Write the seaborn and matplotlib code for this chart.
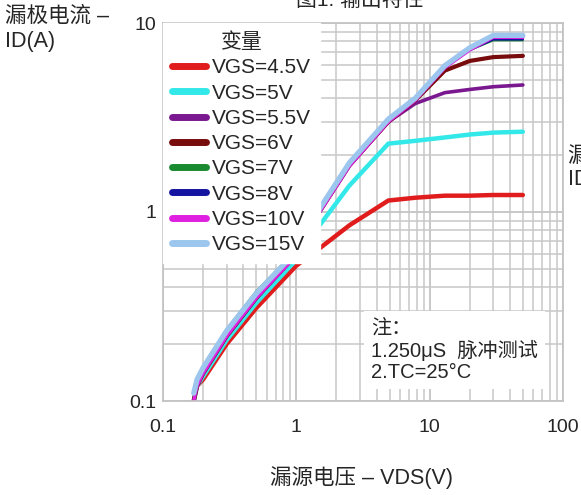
import matplotlib
matplotlib.use("Agg")
import matplotlib.pyplot as plt
import seaborn as sns
from matplotlib.ticker import FixedLocator, FixedFormatter, NullFormatter

# dados (curva de saída)
VDS = [0.17, 0.18, 0.2, 0.3, 0.5, 1, 1.4, 2.5, 4.9, 7.8, 13, 20, 30, 50]

id_vgs45 = [0.1, 0.12, 0.13, 0.2, 0.31, 0.52, 0.62, 0.85, 1.15, 1.19, 1.22, 1.22, 1.23, 1.23]
id_vgs5 = [0.1, 0.12, 0.135, 0.21, 0.33, 0.56, 0.80, 1.38, 2.3, 2.38, 2.48, 2.57, 2.63, 2.66]
id_vgs55 = [0.1, 0.12, 0.14, 0.22, 0.35, 0.59, 0.93, 1.75, 3.0, 3.75, 4.28, 4.45, 4.6, 4.7]
id_vgs6 = [0.1, 0.12, 0.14, 0.22, 0.35, 0.6, 0.94, 1.77, 3.0, 3.9, 5.6, 6.3, 6.6, 6.7]
id_vgs7 = [0.1, 0.13, 0.15, 0.24, 0.38, 0.63, 0.98, 1.85, 3.1, 3.95, 5.9, 7.2, 8.1, 8.1]
id_vgs8 = [0.1, 0.12, 0.14, 0.22, 0.35, 0.6, 0.94, 1.77, 3.0, 3.9, 5.85, 7.2, 8.2, 8.2]
id_vgs10 = [0.1, 0.12, 0.14, 0.22, 0.35, 0.59, 0.93, 1.75, 3.0, 3.9, 5.8, 7.2, 8.4, 8.4]
id_vgs15 = [0.11, 0.13, 0.15, 0.235, 0.37, 0.62, 0.97, 1.82, 3.1, 4.0, 5.95, 7.4, 8.6, 8.6]

rotulos = ["VGS=4.5V", "VGS=5V", "VGS=5.5V", "VGS=6V", "VGS=7V", "VGS=8V", "VGS=10V", "VGS=15V"]
series = [id_vgs45, id_vgs5, id_vgs55, id_vgs6, id_vgs7, id_vgs8, id_vgs10, id_vgs15]
cores = ["#e01c1c", "#33e8e8", "#7a1890", "#780c0c", "#1a8a30", "#1414a0", "#e020e0", "#9cc6ee"]
larguras = [3.2, 3.2, 2.6, 3.0, 1.6, 1.8, 2.4, 3.8]

sns.set_style("white")
plt.rcParams['font.family'] = ['Liberation Sans', 'Noto Sans CJK SC']

fig = plt.figure(figsize=(5.81, 4.95), dpi=100)
ax = fig.add_axes([163/581, 1 - 401/495, 400/581, 378/495])

for ys, nome, cor, lw in zip(series, rotulos, cores, larguras):
    sns.lineplot(x=VDS, y=ys, color=cor, linewidth=lw, label=nome, ax=ax, sort=False)

ax.set_xscale("log")
ax.set_yscale("log")
ax.set_xlim(0.1, 100)
ax.set_ylim(0.1, 10)

ax.xaxis.set_major_locator(FixedLocator([0.1, 1, 10, 100]))
ax.xaxis.set_major_formatter(FixedFormatter(["0.1", "1", "10", "100"]))
ax.yaxis.set_major_locator(FixedLocator([0.1, 1, 10]))
ax.yaxis.set_major_formatter(FixedFormatter(["0.1", "1", "10"]))
ax.xaxis.set_minor_formatter(NullFormatter())
ax.yaxis.set_minor_formatter(NullFormatter())
ax.tick_params(axis="both", which="both", length=0, labelsize=14)
ax.tick_params(axis="x", pad=13)
ax.tick_params(axis="y", pad=5)

ax.grid(True, which="major", color="#c4c4c4", linewidth=1.3)
ax.grid(True, which="minor", color="#c8c8c8", linewidth=1.1)
for s in ax.spines.values():
    s.set_color("#c4c4c4")
    s.set_linewidth(1.3)

leg = ax.legend(title="变量", loc="upper left", fontsize=15, title_fontsize=15,
                frameon=True, fancybox=False, borderaxespad=0, borderpad=0.45,
                labelspacing=0.3, handlelength=1.6, handletextpad=0.3)
leg.get_frame().set_facecolor("white")
leg.get_frame().set_edgecolor("white")
leg.get_frame().set_alpha(1)
for h in leg.get_lines():
    h.set_linewidth(5)

ax.text(0.52, 0.05, "注：\n1.250μS  脉冲测试\n2.TC=25°C", transform=ax.transAxes,
        fontsize=14.5, va="bottom", ha="left", linespacing=1.15,
        bbox=dict(facecolor="white", edgecolor="none", pad=5))

ax.set_xlabel("")
ax.set_ylabel("")
fig.text(362/581, 1 - 478/495, "漏源电压 – VDS(V)", fontsize=15.5, ha="center", va="center")
fig.text(5/581, 1 - 6/495, "漏极电流 –\nID(A)", fontsize=15.5, ha="left", va="top", linespacing=1.25)
fig.text(568/581, 1 - 146/495, "漏极电流 –\nID(A)", fontsize=15.5, ha="left", va="top", linespacing=1.15)
fig.text(360/581, 1.0, "图1: 输出特性", fontsize=15, ha="center", va="center")

fig.savefig("out.png", dpi=100)
